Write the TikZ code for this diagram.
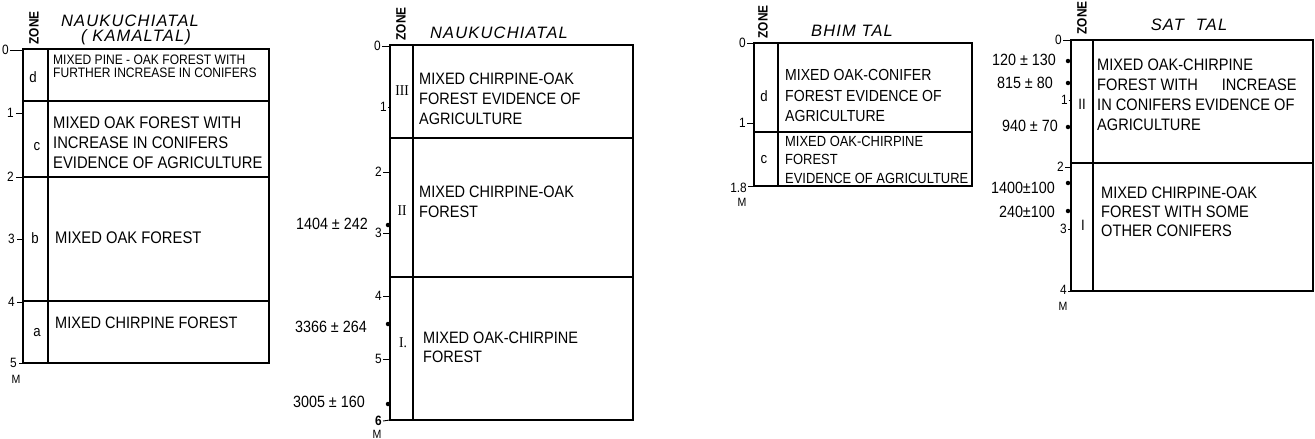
\documentclass[tikz,border=0pt]{standalone}
\usepackage{fontspec}
\setmainfont[FakeStretch=0.88]{Liberation Sans}
\newfontfamily\ttlfont[LetterSpace=7]{Liberation Sans}
\newfontfamily\romnum[FakeStretch=0.9]{Liberation Serif}
\begin{document}
\begin{tikzpicture}[x=1pt,y=-1pt]
\tikzset{
  boxline/.style={draw=black, line width=1.1pt},
  tickline/.style={draw=black, line width=0.9pt},
  desc/.style={anchor=west, align=left, inner sep=0pt, font=\fontsize{16.5}{20}\selectfont},
  zonelbl/.style={inner sep=0pt, font=\fontsize{15}{16}\selectfont},
  zonehead/.style={rotate=90, inner sep=0pt, font=\bfseries\fontsize{13.5}{13}\selectfont},
  ttl/.style={inner sep=0pt, font=\ttlfont\itshape\fontsize{16.5}{20}\selectfont},
  depthlbl/.style={inner sep=0pt, anchor=east, font=\fontsize{13.5}{13}\selectfont},
  unitlbl/.style={inner sep=0pt, font=\fontsize{12}{12}\selectfont},
  datelbl/.style={inner sep=0pt, anchor=east, font=\fontsize{16.3}{16}\selectfont},
  dot/.style={circle, fill=black, inner sep=0pt, minimum size=4.5pt}
}
\useasboundingbox (0,0) rectangle (1315,439);

% ================= Panel 1: NAUKUCHIATAL (KAMALTAL)
\node[ttl] (t1) at (130,21) {NAUKUCHIATAL};
\node[ttl] (t1b) at (136,37) {( KAMALTAL)};
\node[zonehead] (z1) at (34,28) {ZONE};
\draw[boxline] (23,49) rectangle (269,363);
\draw[boxline] (48,49) -- (48,363);
\draw[boxline] (23,101) -- (269,101);
\draw[boxline] (23,177) -- (269,177);
\draw[boxline] (23,301) -- (269,301);
\node[depthlbl] (p1l0) at (9,50) {0};
\node[depthlbl] (p1l1) at (14,113) {1};
\node[depthlbl] (p1l2) at (14,177) {2};
\node[depthlbl] (p1l3) at (15,239) {3};
\node[depthlbl] (p1l4) at (15,302) {4};
\node[depthlbl] (p1l5) at (17,363) {5};
\node[unitlbl] (p1m) at (16,379) {M};
\draw[tickline] (p1l0.east) ++(1,0) -- (23,50);
\draw[tickline] (p1l1.east) ++(2,0) -- (23,113);
\draw[tickline] (p1l2.east) ++(2,0) -- (23,177);
\draw[tickline] (p1l3.east) ++(2,0) -- (23,239);
\draw[tickline] (p1l4.east) ++(2,0) -- (23,302);
\draw[tickline] (p1l5.east) ++(2,0) -- (23,363);
\node[zonelbl] (p1zd) at (33,77) {d};
\node[zonelbl] (p1zc) at (37,147) {c};
\node[zonelbl] (p1zb) at (35,238) {b};
\node[zonelbl] (p1za) at (37,333) {a};
\node[desc, font=\fontsize{13.7}{13}\selectfont] (p1d) at (53,66) {MIXED PINE - OAK FOREST WITH\\FURTHER INCREASE IN CONIFERS};
\node[desc, font=\fontsize{16.8}{20}\selectfont] (p1c) at (53,143) {MIXED OAK FOREST WITH\\INCREASE IN CONIFERS\\EVIDENCE OF AGRICULTURE};
\node[desc, font=\fontsize{16.8}{20}\selectfont] (p1b) at (55,238) {MIXED OAK FOREST};
\node[desc, font=\fontsize{16.5}{20}\selectfont] (p1a) at (55,323) {MIXED CHIRPINE FOREST};

% ================= Panel 2: NAUKUCHIATAL
\node[ttl] (t2) at (499,33) {NAUKUCHIATAL};
\node[zonehead] (z2) at (401,24) {ZONE};
\draw[boxline] (390,45) rectangle (633,420);
\draw[boxline] (413,45) -- (413,420);
\draw[boxline] (390,138) -- (633,138);
\draw[boxline] (390,277) -- (633,277);
\node[depthlbl] (p2l0) at (381,46) {0};
\node[depthlbl] (p2l1) at (387,107) {1};
\node[depthlbl] (p2l2) at (382,172) {2};
\node[depthlbl] (p2l3) at (382,233) {3};
\node[depthlbl] (p2l4) at (382,296) {4};
\node[depthlbl] (p2l5) at (382,359) {5};
\node[depthlbl, font=\bfseries\fontsize{13.5}{13}\selectfont] (p2l6) at (382,421) {6};
\node[unitlbl] (p2m) at (377,434) {M};
\draw[tickline] (p2l0.east) ++(1,0) -- (390,46);
\draw[tickline] (p2l1.east) ++(1,0) -- (390,107);
\draw[tickline] (p2l2.east) ++(1,0) -- (390,172);
\draw[tickline] (p2l3.east) ++(1,0) -- (390,233);
\draw[tickline] (p2l4.east) ++(1,0) -- (390,296);
\draw[tickline] (p2l5.east) ++(1,0) -- (390,359);
\draw[tickline] (p2l6.east) ++(1,0) -- (390,420);
\node[dot] (p2d1) at (388,225) {};
\node[dot] (p2d2) at (388,324) {};
\node[dot] (p2d3) at (388,404) {};
\node[datelbl] (p2a1) at (368,224) {1404 ± 242};
\node[datelbl] (p2a2) at (367,327) {3366 ± 264};
\node[datelbl] (p2a3) at (365,402) {3005 ± 160};
\node[zonelbl, font=\romnum\fontsize{15}{16}\selectfont] (p2z3) at (402,91) {III};
\node[zonelbl, font=\romnum\fontsize{15}{16}\selectfont] (p2z2) at (402,211) {II};
\node[zonelbl, font=\romnum\fontsize{15}{16}\selectfont] (p2z1) at (403,343) {I.};
\node[desc] (p2c) at (419,98.5) {MIXED CHIRPINE-OAK\\FOREST EVIDENCE OF\\AGRICULTURE};
\node[desc] (p2b) at (419,202) {MIXED CHIRPINE-OAK\\FOREST};
\node[desc, font=\fontsize{16.5}{19}\selectfont] (p2a) at (423,347.5) {MIXED OAK-CHIRPINE\\FOREST};

% ================= Panel 3: BHIM TAL
\node[ttl] (t3) at (852,30.5) {BHIM TAL};
\node[zonehead] (z3) at (763,22) {ZONE};
\draw[boxline] (754,43) rectangle (972,186);
\draw[boxline] (778,43) -- (778,186);
\draw[boxline] (754,132) -- (972,132);
\node[depthlbl] (p3l0) at (746,43) {0};
\node[depthlbl] (p3l1) at (746,123) {1};
\node[depthlbl] (p3l2) at (747,188) {1.8};
\node[unitlbl] (p3m) at (742,202) {M};
\draw[tickline] (p3l0.east) ++(1,0) -- (754,43);
\draw[tickline] (p3l1.east) ++(1,0) -- (754,123);
\draw[tickline] (p3l2.east) ++(1,-2) -- (754,186);
\node[zonelbl] (p3zd) at (764,96) {d};
\node[zonelbl] (p3zc) at (764,160) {c};
\node[desc, font=\fontsize{16}{20.5}\selectfont] (p3d) at (785,95.5) {MIXED OAK-CONIFER\\FOREST EVIDENCE OF\\AGRICULTURE};
\node[desc, font=\fontsize{14.7}{18.5}\selectfont] (p3c) at (785,159.5) {MIXED OAK-CHIRPINE\\FOREST\\EVIDENCE OF AGRICULTURE};

% ================= Panel 4: SAT TAL
\node[ttl] (t4) at (1189,25) {SAT\hspace{12pt}TAL};
\node[zonehead] (z4) at (1082,18) {ZONE};
\draw[boxline] (1071,40) rectangle (1313,291);
\draw[boxline] (1093,40) -- (1093,291);
\draw[boxline] (1071,163) -- (1313,163);
\node[depthlbl] (p4l0) at (1062,40) {0};
\node[depthlbl] (p4l1) at (1068,100) {1};
\node[depthlbl] (p4l2) at (1064,167) {2};
\node[depthlbl] (p4l3) at (1067,229) {3};
\node[depthlbl] (p4l4) at (1067,290) {4};
\node[unitlbl] (p4m) at (1063,306) {M};
\draw[tickline] (p4l0.east) ++(1,0) -- (1071,40);
\draw[tickline] (p4l1.east) ++(0.5,0) -- (1071,100);
\draw[tickline] (p4l2.east) ++(1,0) -- (1071,167);
\draw[tickline] (p4l3.east) ++(1,0) -- (1071,229);
\draw[tickline] (p4l4.east) ++(1,1) -- (1071,291);
\node[dot] (p4d1) at (1068,61) {};
\node[dot] (p4d2) at (1068,83) {};
\node[dot] (p4d3) at (1068,127) {};
\node[dot] (p4d4) at (1068,183) {};
\node[dot] (p4d5) at (1068,211) {};
\node[datelbl] (p4a1) at (1056,60) {120 ± 130};
\node[datelbl] (p4a2) at (1053,83) {815 ± 80};
\node[datelbl] (p4a3) at (1058,126) {940 ± 70};
\node[datelbl] (p4a4) at (1055,188) {1400±100};
\node[datelbl] (p4a5) at (1055,212) {240±100};
\node[zonelbl] (p4z2) at (1082,104) {II};
\node[zonelbl] (p4z1) at (1083,225) {I};
\node[desc, font=\fontsize{16.6}{20}\selectfont] (p4b) at (1097,94.5) {MIXED OAK-CHIRPINE\\FOREST WITH\hspace{24pt}INCREASE\\IN CONIFERS EVIDENCE OF\\AGRICULTURE};
\node[desc, font=\fontsize{16.6}{19}\selectfont] (p4a) at (1101,212) {MIXED CHIRPINE-OAK\\FOREST WITH SOME\\OTHER CONIFERS};
\end{tikzpicture}
\end{document}
